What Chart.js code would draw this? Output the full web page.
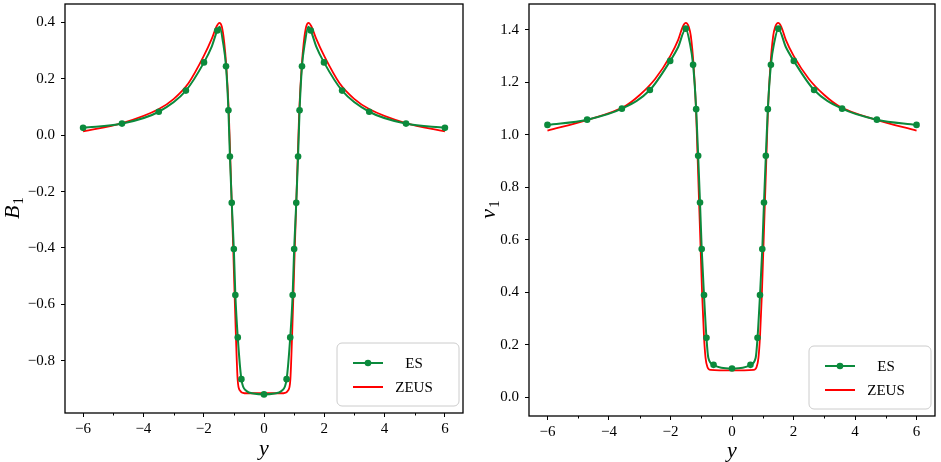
<!DOCTYPE html>
<html>
<head>
<meta charset="utf-8">
<script src="https://cdn.jsdelivr.net/npm/chart.js@4.4.0/dist/chart.umd.min.js"></script>
<style>
  html, body { margin: 0; padding: 0; background: #fff; overflow: hidden; }
  .panel { position: absolute; top: 0; height: 462px; }
  #leftWrap { left: 0; width: 470px; }
  #rightWrap { left: 470px; width: 471px; }
</style>
</head>
<body>
<div class="panel" id="leftWrap"><canvas id="b1Chart"></canvas></div>
<div class="panel" id="rightWrap"><canvas id="v1Chart"></canvas></div>
<script>
// tick labels
const xMajorTicks = [-6, -4, -2, 0, 2, 4, 6];
const xMinorTicks = [-5, -3, -1, 1, 3, 5];
const b1Ticks = [-0.8, -0.6, -0.4, -0.2, 0.0, 0.2, 0.4];
const v1Ticks = [0.0, 0.2, 0.4, 0.6, 0.8, 1.0, 1.2, 1.4];
const seriesNames = ['ES', 'ZEUS'];

// ES solution for B1 (mark = 1 where a marker is drawn)
const esB1X = [-6, -4.71, -3.49, -2.59, -1.99, -1.73, -1.55, -1.47, -1.36, -1.26, -1.18, -1.13, -1.07, -1.0, -0.95, -0.87, -0.75, -0.58, -0.35, 0,
               0.35, 0.58, 0.75, 0.87, 0.95, 1.0, 1.07, 1.13, 1.18, 1.26, 1.36, 1.47, 1.55, 1.73, 1.99, 2.59, 3.49, 4.71, 6];
const esB1Y = [0.026, 0.041, 0.083, 0.158, 0.258, 0.315, 0.371, 0.384, 0.33, 0.244, 0.088, -0.076, -0.24, -0.404, -0.567, -0.717, -0.865, -0.907, -0.916, -0.919,
               -0.916, -0.907, -0.865, -0.717, -0.567, -0.404, -0.24, -0.076, 0.088, 0.244, 0.33, 0.384, 0.371, 0.315, 0.258, 0.158, 0.083, 0.041, 0.026];
const esB1Mark = [1, 1, 1, 1, 1, 0, 1, 0, 0, 1, 1, 1, 1, 1, 1, 1, 1, 0, 0, 1,
                  0, 0, 1, 1, 1, 1, 1, 1, 1, 1, 0, 0, 1, 0, 1, 1, 1, 1, 1];

// ZEUS solution for B1
const zeusB1X = [-6, -4.7, -3.5, -3.0, -2.5, -2.0, -1.73, -1.57, -1.48, -1.4, -1.32, -1.25, -1.17, -1.12, -1.07, -1.02, -0.975, -0.93, -0.875, -0.8, -0.65, 0,
                 0.65, 0.8, 0.875, 0.93, 0.975, 1.02, 1.07, 1.12, 1.17, 1.25, 1.32, 1.4, 1.48, 1.57, 1.73, 2.0, 2.5, 3.0, 3.5, 4.7, 6];
const zeusB1Y = [0.013, 0.043, 0.092, 0.128, 0.185, 0.28, 0.342, 0.386, 0.398, 0.385, 0.33, 0.244, 0.088, -0.076, -0.24, -0.404, -0.567, -0.717, -0.865, -0.905, -0.915, -0.915,
                 -0.915, -0.905, -0.865, -0.717, -0.567, -0.404, -0.24, -0.076, 0.088, 0.244, 0.33, 0.385, 0.398, 0.386, 0.342, 0.28, 0.185, 0.128, 0.092, 0.043, 0.013];

// ES solution for v1
const esV1X = [-6, -4.71, -3.58, -2.67, -2.01, -1.75, -1.505, -1.375, -1.265, -1.165, -1.1, -1.04, -0.985, -0.91, -0.83, -0.77, -0.6, -0.35, 0,
               0.35, 0.6, 0.77, 0.83, 0.91, 0.985, 1.04, 1.1, 1.165, 1.265, 1.375, 1.505, 1.75, 2.01, 2.67, 3.58, 4.71, 6];
const esV1Y = [1.038, 1.058, 1.1, 1.171, 1.282, 1.335, 1.405, 1.353, 1.267, 1.098, 0.92, 0.742, 0.565, 0.389, 0.226, 0.15, 0.123, 0.112, 0.109,
               0.112, 0.123, 0.15, 0.226, 0.389, 0.565, 0.742, 0.92, 1.098, 1.267, 1.353, 1.405, 1.335, 1.282, 1.171, 1.1, 1.058, 1.038];
const esV1Mark = [1, 1, 1, 1, 1, 0, 1, 0, 1, 1, 1, 1, 1, 1, 1, 0, 1, 0, 1,
                  0, 1, 0, 1, 1, 1, 1, 1, 1, 1, 0, 1, 0, 1, 1, 1, 1, 1];

// ZEUS solution for v1
const zeusV1X = [-6, -4.7, -3.5, -3.0, -2.5, -2.0, -1.75, -1.6, -1.5, -1.4, -1.34, -1.25, -1.17, -1.12, -1.07, -1.02, -0.97, -0.91, -0.86, -0.8, -0.7, 0,
                 0.7, 0.8, 0.86, 0.91, 0.97, 1.02, 1.07, 1.12, 1.17, 1.25, 1.34, 1.4, 1.5, 1.6, 1.75, 2.0, 2.5, 3.0, 3.5, 4.7, 6];
const zeusV1Y = [1.016, 1.057, 1.108, 1.152, 1.213, 1.302, 1.362, 1.413, 1.427, 1.41, 1.378, 1.267, 1.098, 0.92, 0.742, 0.565, 0.389, 0.229, 0.15, 0.115, 0.104, 0.102,
                 0.104, 0.115, 0.15, 0.229, 0.389, 0.565, 0.742, 0.92, 1.098, 1.267, 1.378, 1.41, 1.427, 1.413, 1.362, 1.302, 1.213, 1.152, 1.108, 1.057, 1.016];

const GREEN = '#0b8a3c';
const RED = '#ff0000';
const SERIF = '"Liberation Serif", "DejaVu Serif", serif';

function toPoints(xs, ys) {
    return xs.map((x, i) => ({ x: x, y: ys[i] }));
}

function fmt(v, digits) {
    if (Math.abs(v) < 1e-9) v = 0;
    return v.toFixed(digits).replace('-', '\u2212');
}

// frame, minor ticks, axis labels and legend box
const framePlugin = {
    id: 'frame',
    afterDraw(chart, args, opts) {
        const ctx = chart.ctx;
        const a = chart.chartArea;
        const xs = chart.scales.x;
        ctx.save();
        ctx.strokeStyle = '#000';
        ctx.lineWidth = 1;
        xMinorTicks.forEach(v => {
            const px = Math.round(xs.getPixelForValue(v)) + 0.5;
            ctx.beginPath();
            ctx.moveTo(px, a.bottom);
            ctx.lineTo(px, a.bottom + 2.5);
            ctx.stroke();
        });
        ctx.lineWidth = 1.3;
        ctx.strokeRect(a.left, a.top, a.right - a.left, a.bottom - a.top);

        // x label
        ctx.fillStyle = '#000';
        ctx.textAlign = 'center';
        ctx.textBaseline = 'middle';
        ctx.font = 'italic 22px ' + SERIF;
        ctx.fillText('y', (a.left + a.right) / 2, opts.xLabelY);

        // y label with subscript
        ctx.save();
        ctx.translate(opts.yLabelX, (a.top + a.bottom) / 2);
        ctx.rotate(-Math.PI / 2);
        ctx.font = 'italic 22px ' + SERIF;
        const w1 = ctx.measureText(opts.yLabel).width;
        ctx.font = '15px ' + SERIF;
        const w2 = ctx.measureText('1').width;
        const start = -(w1 + w2) / 2;
        ctx.textAlign = 'left';
        ctx.textBaseline = 'alphabetic';
        ctx.font = 'italic 22px ' + SERIF;
        ctx.fillText(opts.yLabel, start, 7);
        ctx.font = '15px ' + SERIF;
        ctx.fillText('1', start + w1 + 1, 11);
        ctx.restore();

        // legend box
        const bw = 122, bh = 63;
        const bx = a.right - 4 - bw, by = a.bottom - 7 - bh;
        ctx.beginPath();
        ctx.roundRect(bx, by, bw, bh, 5);
        ctx.fillStyle = 'rgba(255,255,255,0.85)';
        ctx.fill();
        ctx.strokeStyle = '#cccccc';
        ctx.lineWidth = 1;
        ctx.stroke();
        chart.data.datasets.forEach((ds, i) => {
            const ly = by + 20 + i * 24;
            ctx.strokeStyle = ds.borderColor;
            ctx.lineWidth = 2;
            ctx.beginPath();
            ctx.moveTo(bx + 16, ly);
            ctx.lineTo(bx + 46, ly);
            ctx.stroke();
            if (i === 0) {
                ctx.fillStyle = ds.pointBackgroundColor;
                ctx.beginPath();
                ctx.arc(bx + 31, ly, 3.3, 0, Math.PI * 2);
                ctx.fill();
            }
            ctx.fillStyle = '#000';
            ctx.font = '15px ' + SERIF;
            ctx.textAlign = 'center';
            ctx.textBaseline = 'middle';
            ctx.fillText(ds.label, bx + 77, ly + 1);
        });
        ctx.restore();
    }
};

function makeChart(canvasId, cfg) {
    const tickFont = { family: SERIF, size: 15 };
    return new Chart(document.getElementById(canvasId), {
        type: 'line',
        data: {
            datasets: [{
                label: seriesNames[0],
                data: toPoints(cfg.esX, cfg.esY),
                borderColor: GREEN,
                backgroundColor: GREEN,
                pointBackgroundColor: GREEN,
                pointBorderColor: GREEN,
                borderWidth: 2,
                pointRadius: ctx => cfg.esMark[ctx.dataIndex] ? 3.3 : 0,
                pointBorderWidth: 0,
                cubicInterpolationMode: 'monotone',
                fill: false
            }, {
                label: seriesNames[1],
                data: toPoints(cfg.zeusX, cfg.zeusY),
                borderColor: RED,
                backgroundColor: RED,
                borderWidth: 1.8,
                pointRadius: 0,
                cubicInterpolationMode: 'monotone',
                fill: false
            }]
        },
        options: {
            responsive: true,
            maintainAspectRatio: false,
            animation: false,
            layout: { padding: cfg.padding },
            plugins: {
                legend: { display: false },
                tooltip: { enabled: false },
                frame: { xLabelY: cfg.xLabelY, yLabelX: cfg.yLabelX, yLabel: cfg.yLabel }
            },
            scales: {
                x: {
                    type: 'linear',
                    min: -6.6,
                    max: 6.6,
                    afterBuildTicks: s => { s.ticks = xMajorTicks.map(v => ({ value: v })); },
                    afterFit: s => { s.height = cfg.xAxisHeight; s.paddingLeft = 0; s.paddingRight = 0; },
                    grid: { drawOnChartArea: false, drawTicks: true, tickLength: 4, tickColor: '#000', tickWidth: 1 },
                    border: { display: false },
                    ticks: { font: tickFont, color: '#000', padding: 3, autoSkip: false, maxRotation: 0,
                             callback: v => fmt(v, 0) }
                },
                y: {
                    type: 'linear',
                    min: cfg.yMin,
                    max: cfg.yMax,
                    afterBuildTicks: s => { s.ticks = cfg.yTicks.map(v => ({ value: v })); },
                    afterFit: s => { s.width = cfg.yAxisWidth; s.paddingTop = 0; s.paddingBottom = 0; },
                    grid: { drawOnChartArea: false, drawTicks: true, tickLength: 4, tickColor: '#000', tickWidth: 1 },
                    border: { display: false },
                    ticks: { font: tickFont, color: '#000', padding: 6, autoSkip: false,
                             callback: v => fmt(v, 1) }
                }
            }
        },
        plugins: [framePlugin]
    });
}

makeChart('b1Chart', {
    esX: esB1X, esY: esB1Y, esMark: esB1Mark, zeusX: zeusB1X, zeusY: zeusB1Y,
    yTicks: b1Ticks, yMin: -0.985, yMax: 0.465, yLabel: 'B',
    padding: { top: 2, right: 7, left: 0, bottom: 0 },
    yAxisWidth: 65, xAxisHeight: 49, xLabelY: 449, yLabelX: 12
});

makeChart('v1Chart', {
    esX: esV1X, esY: esV1Y, esMark: esV1Mark, zeusX: zeusV1X, zeusY: zeusV1Y,
    yTicks: v1Ticks, yMin: -0.072, yMax: 1.499, yLabel: 'v',
    padding: { top: 3, right: 6, left: 0, bottom: 0 },
    yAxisWidth: 59, xAxisHeight: 46, xLabelY: 451, yLabelX: 18
});
</script>
</body>
</html>
